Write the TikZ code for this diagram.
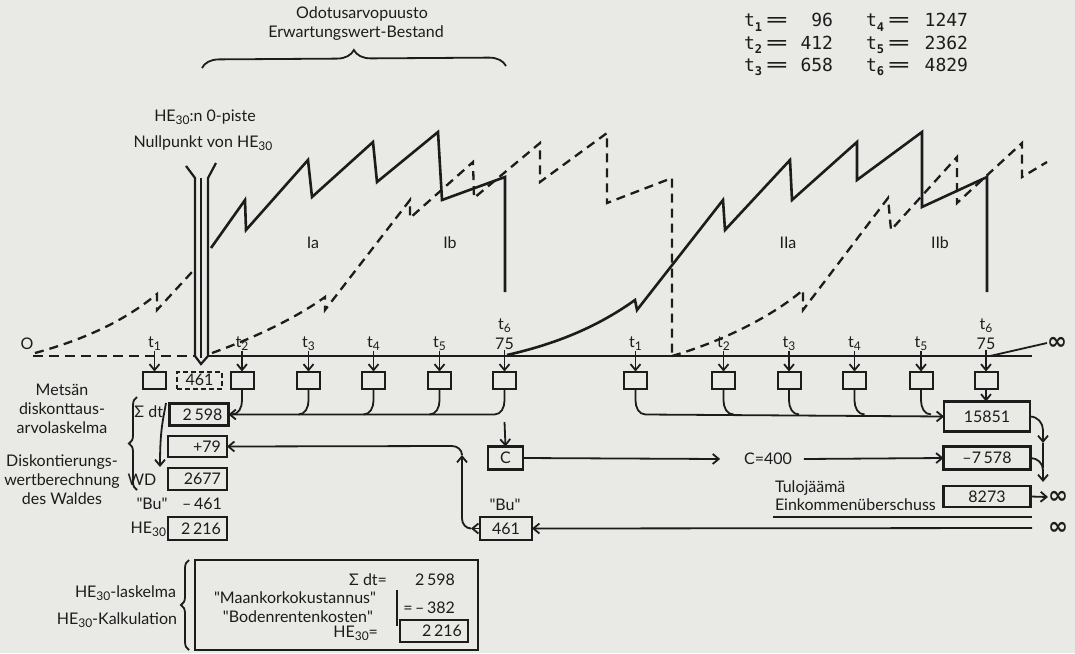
\documentclass[tikz,border=0pt]{standalone}
\usepackage{fontspec}
\usepackage{graphicx}
\setmainfont{Lato}
\newfontfamily\tabfont{DejaVu Sans Mono}
\newfontfamily\symfont{DejaVu Sans}
\usetikzlibrary{arrows.meta,decorations.pathreplacing,calc}
\definecolor{bg}{RGB}{233,233,230}
\definecolor{ink}{RGB}{28,28,28}
\newcommand\lowsub[1]{\raisebox{-0.35ex}{\fontsize{12}{12}\selectfont #1}}
\newcommand\tabsub[1]{\raisebox{-0.45ex}{\fontsize{12}{12}\selectfont\bfseries #1}}
\newcommand\infsym{{\symfont\bfseries\fontsize{24}{24}\selectfont ∞}}
\newcommand\wideeq{\scalebox{2.0}[1.1]{=}}
\newcommand\qq{\textquotedbl}
\begin{document}
\begin{tikzpicture}[x=1pt,y=-1pt,
  every node/.style={inner sep=0pt,outer sep=0pt,text=ink,font=\fontsize{16}{19}\selectfont},
  saw/.style={draw=ink,line width=2.6pt,line join=miter},
  dsaw/.style={draw=ink,line width=2.3pt,dash pattern=on 9pt off 6pt},
  baseln/.style={draw=ink,line width=2pt},
  conn/.style={draw=ink,line width=1.8pt},
  arr/.style={-{Straight Barb[length=6pt,width=10pt]}},
  tbox/.style={draw=ink,line width=2pt,minimum width=23pt,minimum height=17pt},
  vbox/.style={draw=ink,line width=2.2pt,minimum width=59pt,minimum height=22pt,text width=47pt,align=right},
  rbox/.style={draw=ink,line width=2.2pt,minimum width=87pt,minimum height=23pt},
  curly/.style={draw=ink,line width=1.8pt,decorate,decoration={brace,amplitude=#1}},
  tab/.style={font=\tabfont\fontsize{18}{22}\selectfont}
]
\fill[bg] (0,0) rectangle (1075,653);
\useasboundingbox (0,0) rectangle (1075,653);

% ---- title and brace
\node (tit1) at (362,14) {Odotusarvopuusto};
\node (tit2) at (356,33) {Erwartungswert-Bestand};
\draw[curly=17pt] (202,68) -- (506,66);

% ---- table
\node[tab,anchor=base west] (ta1) at (744,27) {t\tabsub{1}};
\node[tab,anchor=base] (te1) at (777,27) {\wideeq};
\node[tab,anchor=base east] (tv1) at (833,27) {96};
\node[tab,anchor=base west] (ta2) at (744,49) {t\tabsub{2}};
\node[tab,anchor=base] (te2) at (777,49) {\wideeq};
\node[tab,anchor=base east] (tv2) at (833,49) {412};
\node[tab,anchor=base west] (ta3) at (744,71) {t\tabsub{3}};
\node[tab,anchor=base] (te3) at (777,71) {\wideeq};
\node[tab,anchor=base east] (tv3) at (833,71) {658};
\node[tab,anchor=base west] (ta4) at (866,27) {t\tabsub{4}};
\node[tab,anchor=base] (te4) at (899,27) {\wideeq};
\node[tab,anchor=base east] (tv4) at (968,27) {1247};
\node[tab,anchor=base west] (ta5) at (866,49) {t\tabsub{5}};
\node[tab,anchor=base] (te5) at (899,49) {\wideeq};
\node[tab,anchor=base east] (tv5) at (968,49) {2362};
\node[tab,anchor=base west] (ta6) at (866,71) {t\tabsub{6}};
\node[tab,anchor=base] (te6) at (899,71) {\wideeq};
\node[tab,anchor=base east] (tv6) at (968,71) {4829};

% ---- zero point
\node (hn1) at (205,117) {HE\lowsub{30}:n 0-piste};
\node (hn2) at (203,143) {Nullpunkt von HE\lowsub{30}};
\draw[saw,line width=2.2pt] (186,166) -- (195,178) -- (195,356) -- (201,364) -- (208,356) -- (208,178) -- (216,163);
\draw[draw=ink,line width=1.2pt] (201,178) -- (201,358);

% ---- time axis
\node (O) at (27,344) {O};
\draw[baseln,dash pattern=on 10pt off 6pt] (33,356) -- (194,356);
\draw[baseln] (208,356) -- (1032,356);

% ---- growth curves
\draw[dsaw] (35,353) .. controls (90,338) and (128,318) .. (157,294) -- (157,310) -- (192,272);
\draw[saw] (211,248) -- (245,200) -- (246,230) -- (308,160) -- (312,197) -- (373,142) -- (377,182)
  -- (438,132) -- (442,200) -- (505,177) -- (505,292);
\draw[dsaw] (212,353) .. controls (262,335) and (300,315) .. (325,297) -- (325,310) -- (410,200)
  -- (410,218) -- (473,162) -- (474,198) -- (540,143) -- (540,182) -- (607,133) -- (607,203)
  -- (672,178) -- (672,356);
\draw[saw] (507,355) .. controls (560,343) and (600,325) .. (635,300) -- (637,310) -- (723,200)
  -- (725,230) -- (790,160) -- (792,200) -- (857,142) -- (857,180) -- (922,132) -- (922,207)
  -- (987,177) -- (987,292);
\draw[dsaw] (672,356) .. controls (720,342) and (770,318) .. (803,290) -- (803,310) -- (888,198)
  -- (891,230) -- (957,157) -- (957,203) -- (1022,143) -- (1022,177) -- (1047,162);
\node (inf0) at (1057,343) {\infsym};
\draw[conn] (990,356) -- (inf0.west);

\node (Ia) at (313,243) {Ia};
\node (Ib) at (450,243) {Ib};
\node (IIa) at (788,243) {IIa};
\node (IIb) at (940,243) {IIb};

% ---- rotation I boxes
\foreach \n/\x in {1/154.5,2/242,3/308.5,4/373.5,5/439.5}{
  \node[tbox] (a\n) at (\x,380) {};
  \node (la\n) at (\x,344) {t\lowsub{\n}};
  \draw[conn,arr] (la\n.south) -- (a\n.north);
}
\node[tbox] (a6) at (504.5,380) {};
\node (la6) at (504.5,326) {t\lowsub{6}};
\node (la6b) at (504.5,344) {75};
\draw[conn,arr] (la6b.south) -- (a6.north);
\node[draw=ink,line width=2pt,dash pattern=on 5pt off 3pt,minimum width=45pt,minimum height=17pt] (d461) at (199.5,380) {461};

% ---- rotation II boxes
\foreach \n/\x in {1/635.5,2/723.5,3/789,4/854.5,5/921}{
  \node[tbox] (b\n) at (\x,380) {};
  \node (lb\n) at (\x,344) {t\lowsub{\n}};
  \draw[conn,arr] (lb\n.south) -- (b\n.north);
}
\node[tbox] (b6) at (986,380) {};
\node (lb6) at (986,326) {t\lowsub{6}};
\node (lb6b) at (986,344) {75};
\draw[conn,arr] (lb6b.south) -- (b6.north);

% ---- left column
\node[vbox] (s2598) at (199,414.5) {2\,598};
\node[anchor=east] (sdt) at (163,412) {Σ dt};
\node[vbox,minimum height=21pt] (p79) at (197.5,446.5) {+79};
\node (wd) at (142,480) {WD};
\node[vbox] (v2677) at (197.5,479) {2677};
\node (bu1) at (152,504) {\qq Bu\qq};
\node[anchor=east] (m461) at (222,504) {–\,461};
\node[anchor=east] (he1) at (166,529) {HE\lowsub{30}};
\node[vbox,minimum height=23pt] (v2216) at (197.5,528.5) {2\,216};
\draw[conn,arr] (166,403) .. controls (163,420) and (160,430) .. (160,467);
\draw[curly=8pt] (137,490) -- (137,397);
\node[align=center] (metsa) at (62,409) {Metsän\\diskonttaus-\\arvolaskelma};
\node[align=center] (disk) at (62,480) {Diskontierungs-\\wertberechnung\\des Waldes};

% ---- horizontal collectors
\draw[conn,arr] (a6.south) -- ++(0,12) to[out=-90,in=0] ++(-10,14) -- (s2598.east);
\foreach \n in {2,3,4,5}{\draw[conn] (a\n.south) -- ++(0,12) to[out=-90,in=0] ++(-10,14);}
\node[draw=ink,line width=2.2pt,minimum width=86pt,minimum height=30pt] (n15851) at (987,416.5) {15851};
\draw[conn,arr] (b1.south) -- ++(0,12) to[out=-90,in=180] ++(10,14) -- (n15851.west);
\foreach \n in {2,3,4,5}{\draw[conn] (b\n.south) -- ++(0,12) to[out=-90,in=180] ++(10,14);}
\draw[conn,arr] (b6.south) -- (b6.south |- n15851.north);

% ---- C and Bu
\coordinate (cin) at (504.5,422);
\node[draw=ink,line width=2.2pt,minimum width=35pt,minimum height=23pt] (C) at (505.5,458) {C};
\draw[conn,arr] (cin) -- (C.north);
\node (bu2) at (505,505) {\qq Bu\qq};
\node[draw=ink,line width=2.2pt,minimum width=52pt,minimum height=23pt] (b461) at (506,528.5) {461};
\node (c400) at (768,459) {C=400};
\draw[conn,arr] (C.east) -- ($(c400.west)+(-24,0)$);
\node[rbox] (m7578) at (987,458) {–7\,578};
\draw[conn,arr] ($(c400.east)+(12,0)$) -- (m7578.west);
\node[rbox,minimum height=21pt] (n8273) at (987,496.5) {8273};
\draw[conn,arr] (n15851.east) to[out=0,in=90] (1043,430) -- (1043,443);
\draw[conn] (1043,443) -- (1043,468);
\draw[conn,arr] (m7578.east) to[out=0,in=90] (1043,470) -- (1043,482);
\node (inf1) at (1058,497) {\infsym};
\draw[conn,arr] (n8273.east) -- (inf1.west);
\node[anchor=west] (tulo1) at (775,488) {Tulojäämä};
\node[anchor=west] (tulo2) at (775,505) {Einkommenüberschuss};
\draw[baseln] (773,517) -- (1032,517);
\node (inf2) at (1058,528) {\infsym};
\draw[conn,arr] ($(inf2.west)+(-16,0)$) -- (b461.east);
\draw[conn,arr] (b461.west) -- ++(-9,0) coordinate (k1);
\draw[conn,arr] (k1) to[out=180,in=-90] ++(-9,-10) -- (462,455) coordinate (k2);
\draw[conn,arr] (k2) to[out=90,in=0] ++(-10,-9) -- (p79.east);

% ---- HE30 calculation
\node[draw=ink,line width=2pt,minimum width=283pt,minimum height=90pt,anchor=north west] (kbox) at (195,560) {};
\draw[curly=8pt] (189,650) -- (189,560);
\node[anchor=east] (hl1) at (176,593) {HE\lowsub{30}-laskelma};
\node[anchor=east] (hl2) at (177,620) {HE\lowsub{30}-Kalkulation};
\node[anchor=east] (k1a) at (387,580) {Σ dt=};
\node[anchor=east] (k1b) at (455,580) {2\,598};
\node[anchor=east] (k2a) at (376,598) {\qq Maankorkokustannus\qq};
\node[anchor=east] (k3a) at (373,617) {\qq Bodenrentenkosten\qq};
\draw[conn,line width=1.5pt] (397,590) -- (397,626);
\node[anchor=east] (k2b) at (455,608) {=\,–\,382};
\node[anchor=east] (k4a) at (378,633) {HE\lowsub{30}=};
\node[draw=ink,line width=2.2pt,minimum width=68pt,minimum height=22pt,text width=56pt,align=right] (k4b) at (434,631) {2\,216};
\end{tikzpicture}
\end{document}
